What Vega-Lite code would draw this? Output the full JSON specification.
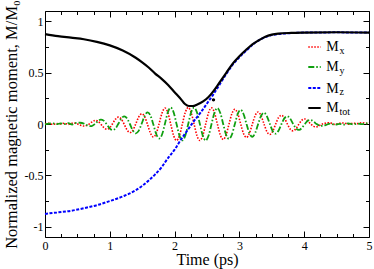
{
  "$schema": "https://vega.github.io/schema/vega-lite/v6.json",
  "width": 324,
  "height": 226,
  "autosize": {"type": "none"},
  "padding": {"left": 45, "top": 11, "right": 5, "bottom": 32},
  "background": "white",
  "datasets": {
    "mxy": [
      {"t":0,"Mx":0.002,"My":-0.004},{"t":0.06,"Mx":0.006,"My":0.003},{"t":0.12,"Mx":-0.003,"My":0.006},{"t":0.18,"Mx":0.005,"My":-0.002},
      {"t":0.24,"Mx":0.0,"My":0.007},{"t":0.3,"Mx":0.008,"My":0.0},{"t":0.36,"Mx":-0.004,"My":0.008},{"t":0.42,"Mx":0.008,"My":-0.005},
      {"t":0.48,"Mx":0.006,"My":0.01},{"t":0.54,"Mx":-0.01,"My":0.012},{"t":0.6,"Mx":-0.02,"My":0.004},{"t":0.66,"Mx":-0.01,"My":-0.015},
      {"t":0.72,"Mx":0.018,"My":-0.02},
      {"t":0.77,"Mx":0.035,"My":0},{"t":0.815,"Mx":0.028,"My":0.028},{"t":0.86,"Mx":0,"My":0.043},{"t":0.905,"Mx":-0.033,"My":0.033},
      {"t":0.95,"Mx":-0.051,"My":0},{"t":0.995,"Mx":-0.039,"My":-0.039},{"t":1.04,"Mx":0,"My":-0.059},{"t":1.085,"Mx":0.045,"My":-0.045},
      {"t":1.13,"Mx":0.067,"My":0},{"t":1.175,"Mx":0.05,"My":0.05},{"t":1.22,"Mx":0,"My":0.075},{"t":1.265,"Mx":-0.056,"My":0.056},
      {"t":1.31,"Mx":-0.083,"My":0},{"t":1.355,"Mx":-0.062,"My":-0.062},{"t":1.4,"Mx":0,"My":-0.091},{"t":1.445,"Mx":0.067,"My":-0.067},
      {"t":1.49,"Mx":0.099,"My":0},{"t":1.535,"Mx":0.074,"My":0.074},{"t":1.58,"Mx":0,"My":0.113},{"t":1.625,"Mx":-0.085,"My":0.085},
      {"t":1.67,"Mx":-0.127,"My":0},{"t":1.715,"Mx":-0.095,"My":-0.095},{"t":1.76,"Mx":0,"My":-0.141},{"t":1.805,"Mx":0.105,"My":-0.105},
      {"t":1.85,"Mx":0.155,"My":0},{"t":1.895,"Mx":0.113,"My":0.113},{"t":1.94,"Mx":0,"My":0.16},{"t":1.985,"Mx":-0.113,"My":0.113},
      {"t":2.03,"Mx":-0.16,"My":0},{"t":2.075,"Mx":-0.113,"My":-0.113},{"t":2.12,"Mx":0,"My":-0.16},{"t":2.165,"Mx":0.113,"My":-0.113},
      {"t":2.21,"Mx":0.16,"My":0},{"t":2.255,"Mx":0.113,"My":0.113},{"t":2.3,"Mx":0,"My":0.16},{"t":2.345,"Mx":-0.113,"My":0.113},
      {"t":2.39,"Mx":-0.16,"My":0},{"t":2.435,"Mx":-0.113,"My":-0.113},{"t":2.48,"Mx":0,"My":-0.16},{"t":2.525,"Mx":0.112,"My":-0.112},
      {"t":2.57,"Mx":0.157,"My":0},{"t":2.615,"Mx":0.11,"My":0.11},{"t":2.66,"Mx":0,"My":0.154},{"t":2.705,"Mx":-0.107,"My":0.107},
      {"t":2.75,"Mx":-0.15,"My":0},{"t":2.795,"Mx":-0.105,"My":-0.105},{"t":2.84,"Mx":0,"My":-0.146},{"t":2.885,"Mx":0.102,"My":-0.102},
      {"t":2.93,"Mx":0.143,"My":0},{"t":2.975,"Mx":0.1,"My":0.1},{"t":3.02,"Mx":0,"My":0.138},{"t":3.065,"Mx":-0.095,"My":0.095},
      {"t":3.11,"Mx":-0.131,"My":0},{"t":3.155,"Mx":-0.09,"My":-0.09},{"t":3.2,"Mx":0,"My":-0.124},{"t":3.245,"Mx":0.085,"My":-0.085},
      {"t":3.29,"Mx":0.117,"My":0},{"t":3.335,"Mx":0.08,"My":0.08},{"t":3.38,"Mx":0,"My":0.11},{"t":3.425,"Mx":-0.075,"My":0.075},
      {"t":3.47,"Mx":-0.102,"My":0},{"t":3.515,"Mx":-0.07,"My":-0.07},{"t":3.56,"Mx":0,"My":-0.094},{"t":3.605,"Mx":0.063,"My":-0.063},
      {"t":3.65,"Mx":0.085,"My":0},{"t":3.695,"Mx":0.057,"My":0.057},{"t":3.74,"Mx":0,"My":0.076},{"t":3.785,"Mx":-0.051,"My":0.051},
      {"t":3.83,"Mx":-0.067,"My":0},{"t":3.875,"Mx":-0.044,"My":-0.044},{"t":3.92,"Mx":0,"My":-0.058},{"t":3.965,"Mx":0.038,"My":-0.038},
      {"t":4.01,"Mx":0.049,"My":0},{"t":4.055,"Mx":0.031,"My":0.031},{"t":4.1,"Mx":0,"My":0.038},{"t":4.145,"Mx":-0.023,"My":0.023},
      {"t":4.19,"Mx":-0.028,"My":0},{"t":4.235,"Mx":-0.016,"My":-0.016},{"t":4.28,"Mx":0,"My":-0.017},
      {"t":4.33,"Mx":0.008,"My":-0.01},{"t":4.4,"Mx":0.012,"My":0.004},{"t":4.47,"Mx":-0.004,"My":-0.008},{"t":4.54,"Mx":0.006,"My":0.002},
      {"t":4.61,"Mx":0.01,"My":-0.006},{"t":4.68,"Mx":-0.002,"My":0.006},{"t":4.75,"Mx":0.008,"My":-0.004},{"t":4.82,"Mx":0.004,"My":0.003},
      {"t":4.89,"Mx":0.012,"My":-0.002},{"t":4.96,"Mx":0.006,"My":0.005},{"t":5.0,"Mx":0.01,"My":0.012}
    ],
    "mz": [
      {"t":0,"v":-0.875},{"t":0.2,"v":-0.86},{"t":0.4,"v":-0.845},{"t":0.6,"v":-0.82},{"t":0.8,"v":-0.79},{"t":1.0,"v":-0.75},
      {"t":1.2,"v":-0.705},{"t":1.4,"v":-0.645},{"t":1.6,"v":-0.55},{"t":1.7,"v":-0.49},{"t":1.8,"v":-0.42},{"t":1.9,"v":-0.33},
      {"t":2.0,"v":-0.25},{"t":2.1,"v":-0.15},{"t":2.2,"v":-0.06},{"t":2.3,"v":0.03},{"t":2.4,"v":0.11},{"t":2.5,"v":0.2},
      {"t":2.6,"v":0.29},{"t":2.7,"v":0.39},{"t":2.8,"v":0.49},{"t":2.9,"v":0.58},{"t":3.0,"v":0.65},{"t":3.1,"v":0.71},
      {"t":3.2,"v":0.77},{"t":3.3,"v":0.815},{"t":3.4,"v":0.845},{"t":3.5,"v":0.865},{"t":3.6,"v":0.875},{"t":3.8,"v":0.885},
      {"t":4.0,"v":0.89},{"t":4.5,"v":0.892},{"t":5.0,"v":0.89}
    ],
    "mtot": [
      {"t":0,"v":0.875},{"t":0.2,"v":0.855},{"t":0.4,"v":0.84},{"t":0.6,"v":0.825},{"t":0.8,"v":0.8},{"t":1.0,"v":0.765},
      {"t":1.2,"v":0.715},{"t":1.4,"v":0.645},{"t":1.5,"v":0.6},{"t":1.6,"v":0.55},{"t":1.7,"v":0.49},{"t":1.8,"v":0.44},
      {"t":1.9,"v":0.38},{"t":2.0,"v":0.31},{"t":2.1,"v":0.24},{"t":2.16,"v":0.195},{"t":2.22,"v":0.175},{"t":2.28,"v":0.175},
      {"t":2.35,"v":0.19},{"t":2.44,"v":0.22},{"t":2.52,"v":0.26},{"t":2.6,"v":0.32},{"t":2.7,"v":0.41},{"t":2.8,"v":0.5},
      {"t":2.9,"v":0.59},{"t":3.0,"v":0.66},{"t":3.1,"v":0.72},{"t":3.2,"v":0.775},{"t":3.3,"v":0.815},{"t":3.4,"v":0.85},
      {"t":3.5,"v":0.87},{"t":3.6,"v":0.88},{"t":3.8,"v":0.887},{"t":4.0,"v":0.89},{"t":4.5,"v":0.893},{"t":5.0,"v":0.89}
    ],
    "dot": [{"t":2.6,"v":0.235}],
    "one": [{"k":1}]
  },
  "resolve": {"axis": {"x": "independent", "y": "independent"}},
  "layer": [
    {
      "data": {"name": "mxy"},
      "mark": {"type": "line", "color": "#ff0000", "strokeWidth": 1.6, "strokeDash": [1.5, 1.5], "interpolate": "cardinal"},
      "encoding": {
        "x": {"field": "t", "type": "quantitative", "scale": {"domain": [0, 5], "nice": false, "zero": false},
          "axis": {"orient": "bottom", "values": [0, 1, 2, 3, 4, 5], "ticks": false, "labelPadding": 3, "labelFlush": false, "labelOverlap": false, "labelExpr": "'' + datum.value", "title": "Time (ps)", "titlePadding": 0}},
        "y": {"field": "Mx", "type": "quantitative", "scale": {"domain": [-1.1, 1.1], "nice": false, "zero": false},
          "axis": {"orient": "left", "values": [-1, -0.5, 0, 0.5, 1], "ticks": false, "labelPadding": 2, "labelFlush": false, "labelOverlap": false, "labelExpr": "'' + datum.value", "title": "Normalized magnetic moment, M/M₀", "titlePadding": 5, "titleFontSize": 16.5}}
      }
    },
    {
      "data": {"name": "mxy"},
      "mark": {"type": "line", "color": "#10a010", "strokeWidth": 1.8, "strokeDash": [6, 2, 1.5, 2], "interpolate": "cardinal"},
      "encoding": {
        "x": {"field": "t", "type": "quantitative", "scale": {"domain": [0, 5], "nice": false, "zero": false},
          "axis": {"orient": "bottom", "values": [0, 1, 2, 3, 4, 5], "tickSize": -6, "labels": false, "title": null}},
        "y": {"field": "My", "type": "quantitative", "scale": {"domain": [-1.1, 1.1], "nice": false, "zero": false},
          "axis": {"orient": "left", "values": [-1, -0.5, 0, 0.5, 1], "tickSize": -6, "labels": false, "title": null}}
      }
    },
    {
      "data": {"name": "mz"},
      "mark": {"type": "line", "color": "#0000ff", "strokeWidth": 2, "strokeDash": [3, 1.5], "interpolate": "monotone"},
      "encoding": {
        "x": {"field": "t", "type": "quantitative", "scale": {"domain": [0, 5], "nice": false, "zero": false},
          "axis": {"orient": "bottom", "values": [0.25, 0.5, 0.75, 1.25, 1.5, 1.75, 2.25, 2.5, 2.75, 3.25, 3.5, 3.75, 4.25, 4.5, 4.75], "tickSize": -3.5, "labels": false, "title": null}},
        "y": {"field": "v", "type": "quantitative", "scale": {"domain": [-1.1, 1.1], "nice": false, "zero": false},
          "axis": {"orient": "left", "values": [-0.75, -0.25, 0.25, 0.75], "tickSize": -3.5, "labels": false, "title": null}}
      }
    },
    {
      "data": {"name": "mtot"},
      "mark": {"type": "line", "color": "#000000", "strokeWidth": 2.2, "interpolate": "monotone"},
      "encoding": {
        "x": {"field": "t", "type": "quantitative", "scale": {"domain": [0, 5], "nice": false, "zero": false},
          "axis": {"orient": "top", "values": [0, 1, 2, 3, 4, 5], "tickSize": -6, "labels": false, "title": null}},
        "y": {"field": "v", "type": "quantitative", "scale": {"domain": [-1.1, 1.1], "nice": false, "zero": false},
          "axis": {"orient": "right", "values": [-1, -0.5, 0, 0.5, 1], "tickSize": -6, "labels": false, "title": null}}
      }
    },
    {
      "data": {"name": "dot"},
      "mark": {"type": "point", "filled": true, "color": "#000000", "size": 12, "opacity": 1},
      "encoding": {
        "x": {"field": "t", "type": "quantitative", "scale": {"domain": [0, 5], "nice": false, "zero": false},
          "axis": {"orient": "top", "values": [0.25, 0.5, 0.75, 1.25, 1.5, 1.75, 2.25, 2.5, 2.75, 3.25, 3.5, 3.75, 4.25, 4.5, 4.75], "tickSize": -3.5, "labels": false, "title": null}},
        "y": {"field": "v", "type": "quantitative", "scale": {"domain": [-1.1, 1.1], "nice": false, "zero": false},
          "axis": {"orient": "right", "values": [-0.75, -0.25, 0.25, 0.75], "tickSize": -3.5, "labels": false, "title": null}}
      }
    },
    {"data": {"name": "one"}, "mark": {"type": "rule", "color": "#ff0000", "strokeWidth": 1.6, "strokeDash": [1.5, 1.5]},
      "encoding": {"x": {"datum": 4.063, "type": "quantitative", "axis": null}, "x2": {"datum": 4.255}, "y": {"datum": 0.75, "type": "quantitative", "axis": null}}},
    {"data": {"name": "one"}, "mark": {"type": "rule", "color": "#10a010", "strokeWidth": 1.8, "strokeDash": [6, 2, 1.5, 2]},
      "encoding": {"x": {"datum": 4.063, "type": "quantitative", "axis": null}, "x2": {"datum": 4.255}, "y": {"datum": 0.555, "type": "quantitative", "axis": null}}},
    {"data": {"name": "one"}, "mark": {"type": "rule", "color": "#0000ff", "strokeWidth": 2, "strokeDash": [3, 1.5]},
      "encoding": {"x": {"datum": 4.063, "type": "quantitative", "axis": null}, "x2": {"datum": 4.255}, "y": {"datum": 0.35, "type": "quantitative", "axis": null}}},
    {"data": {"name": "one"}, "mark": {"type": "rule", "color": "#000000", "strokeWidth": 2},
      "encoding": {"x": {"datum": 4.063, "type": "quantitative", "axis": null}, "x2": {"datum": 4.255}, "y": {"datum": 0.156, "type": "quantitative", "axis": null}}},
    {"data": {"name": "one"}, "mark": {"type": "text", "font": "Liberation Serif", "fontSize": 14, "align": "left", "baseline": "alphabetic", "dy": 4.5, "color": "black"},
      "encoding": {"x": {"datum": 4.34, "type": "quantitative", "axis": null}, "y": {"datum": 0.75, "type": "quantitative", "axis": null}, "text": {"value": "M"}}},
    {"data": {"name": "one"}, "mark": {"type": "text", "font": "Liberation Serif", "fontSize": 14, "align": "left", "baseline": "alphabetic", "dy": 4.5, "color": "black"},
      "encoding": {"x": {"datum": 4.34, "type": "quantitative", "axis": null}, "y": {"datum": 0.555, "type": "quantitative", "axis": null}, "text": {"value": "M"}}},
    {"data": {"name": "one"}, "mark": {"type": "text", "font": "Liberation Serif", "fontSize": 14, "align": "left", "baseline": "alphabetic", "dy": 4.5, "color": "black"},
      "encoding": {"x": {"datum": 4.34, "type": "quantitative", "axis": null}, "y": {"datum": 0.35, "type": "quantitative", "axis": null}, "text": {"value": "M"}}},
    {"data": {"name": "one"}, "mark": {"type": "text", "font": "Liberation Serif", "fontSize": 14, "align": "left", "baseline": "alphabetic", "dy": 4.5, "color": "black"},
      "encoding": {"x": {"datum": 4.34, "type": "quantitative", "axis": null}, "y": {"datum": 0.156, "type": "quantitative", "axis": null}, "text": {"value": "M"}}},
    {"data": {"name": "one"}, "mark": {"type": "text", "font": "Liberation Serif", "fontSize": 10, "align": "left", "baseline": "alphabetic", "dy": 7, "color": "black"},
      "encoding": {"x": {"datum": 4.545, "type": "quantitative", "axis": null}, "y": {"datum": 0.75, "type": "quantitative", "axis": null}, "text": {"value": "x"}}},
    {"data": {"name": "one"}, "mark": {"type": "text", "font": "Liberation Serif", "fontSize": 10, "align": "left", "baseline": "alphabetic", "dy": 7, "color": "black"},
      "encoding": {"x": {"datum": 4.545, "type": "quantitative", "axis": null}, "y": {"datum": 0.555, "type": "quantitative", "axis": null}, "text": {"value": "y"}}},
    {"data": {"name": "one"}, "mark": {"type": "text", "font": "Liberation Serif", "fontSize": 10, "align": "left", "baseline": "alphabetic", "dy": 7, "color": "black"},
      "encoding": {"x": {"datum": 4.545, "type": "quantitative", "axis": null}, "y": {"datum": 0.35, "type": "quantitative", "axis": null}, "text": {"value": "z"}}},
    {"data": {"name": "one"}, "mark": {"type": "text", "font": "Liberation Serif", "fontSize": 10, "align": "left", "baseline": "alphabetic", "dy": 7, "color": "black"},
      "encoding": {"x": {"datum": 4.545, "type": "quantitative", "axis": null}, "y": {"datum": 0.156, "type": "quantitative", "axis": null}, "text": {"value": "tot"}}}
  ],
  "config": {
    "view": {"stroke": "#000000", "strokeWidth": 1},
    "axis": {
      "grid": false, "domain": false,
      "tickColor": "#000000", "tickWidth": 1,
      "labelFont": "Liberation Serif", "labelFontSize": 12, "labelColor": "#000000",
      "titleFont": "Liberation Serif", "titleFontSize": 16, "titleFontWeight": "normal", "titleColor": "#000000"
    }
  }
}
